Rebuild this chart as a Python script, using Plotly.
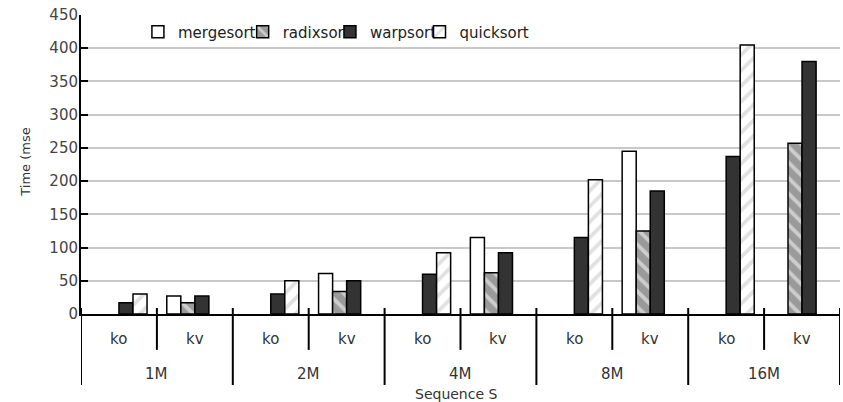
import plotly.graph_objects as go

# Benchmark data: sort time per sequence size and key layout
sizes = ["1M", "2M", "4M", "8M", "16M"]
layouts = ["ko", "kv"]
categories = [f"{s} {l}" for s in sizes for l in layouts]

mergesort = [None, 27, None, 61, None, 115, None, 245, None, None]
radixsort = [None, 17, None, 34, None, 62, None, 125, None, 257]
warpsort = [17, 27, 30, 50, 60, 92, 115, 185, 237, 380]
quicksort = [30, None, 50, None, 92, None, 202, None, 405, None]

y_ticks = [0, 50, 100, 150, 200, 250, 300, 350, 400, 450]
x_title = "Sequence S"
y_title = "Time (mse"

FONT = "DejaVu Sans"
series = [
    ("mergesort", mergesort, dict(color="white")),
    ("radixsort", radixsort, dict(color="#9a9a9a",
                                  pattern=dict(shape="\\", bgcolor="#9a9a9a", fgcolor="white",
                                               size=11, solidity=0.35))),
    ("warpsort", warpsort, dict(color="#333333")),
    ("quicksort", quicksort, dict(color="white",
                                  pattern=dict(shape="/", bgcolor="white", fgcolor="#c4c4c4",
                                               size=11, solidity=0.35))),
]

fig = go.Figure()
legend_ids = ["legend", "legend2", "legend3", "legend4"]
for (name, vals, marker), lid in zip(series, legend_ids):
    marker = dict(marker, line=dict(color="black", width=1.5))
    fig.add_trace(go.Bar(x=categories, y=vals, name=name, marker=marker, legend=lid))

# one legend per series so each entry sits at its own spot on the row
legend_common = dict(orientation="h", y=0.943, yanchor="middle", xanchor="left",
                     bgcolor="rgba(0,0,0,0)", borderwidth=0, itemwidth=30,
                     font=dict(family=FONT, size=15, color="#222"))
legend_x = [0.075, 0.213, 0.328, 0.446]

# category dividers below the axis
shapes = []
for i in range(len(categories) + 1):
    outer = i % 2 == 0
    shapes.append(dict(type="line", xref="x", yref="paper", x0=i - 0.5, x1=i - 0.5,
                       y0=0.02, y1=-0.2375 if outer else -0.12,
                       line=dict(color="black", width=2)))

annotations = []
for c, lab in zip(categories, layouts * len(sizes)):
    annotations.append(dict(x=c, y=-0.084, xref="x", yref="paper", text=lab, showarrow=False,
                            yanchor="middle", font=dict(family=FONT, size=15, color="#333")))
for k, s in enumerate(sizes):
    annotations.append(dict(x=2 * k + 0.5, y=-0.2, xref="x", yref="paper", text=s,
                            showarrow=False, yanchor="middle",
                            font=dict(family=FONT, size=15, color="#333")))
annotations.append(dict(x=0.495, y=-0.266, xref="paper", yref="paper", text=x_title,
                        showarrow=False, yanchor="middle",
                        font=dict(family=FONT, size=14, color="#333")))
annotations.append(dict(x=-0.073, y=0.508, xref="paper", yref="paper", text=y_title,
                        textangle=-90, showarrow=False, xanchor="center", yanchor="middle",
                        font=dict(family=FONT, size=13, color="#333")))

layout_legends = {lid: dict(legend_common, x=lx) for lid, lx in zip(legend_ids, legend_x)}

fig.update_layout(
    width=843, height=402,
    margin=dict(l=81, r=3, t=15, b=88),
    paper_bgcolor="white", plot_bgcolor="white",
    barmode="group", bargap=0.26, bargroupgap=0,
    showlegend=True,
    font=dict(family=FONT, color="#333"),
    xaxis=dict(type="category", categoryorder="array", categoryarray=categories,
               range=[-0.5, len(categories) - 0.5], showticklabels=False, ticks="",
               showgrid=False, zeroline=False, showline=True, linecolor="black", linewidth=2),
    yaxis=dict(range=[0, 450], tickvals=y_ticks, ticks="inside", ticklen=7, tickwidth=2,
               tickcolor="black", showline=True, linecolor="black", linewidth=2,
               gridcolor="#c8c8c8", gridwidth=1.5, zeroline=False, ticklabelstandoff=-2,
               tickfont=dict(family=FONT, size=15, color="#444")),
    shapes=shapes,
    annotations=annotations,
    **layout_legends,
)

fig.write_html("out.html")
